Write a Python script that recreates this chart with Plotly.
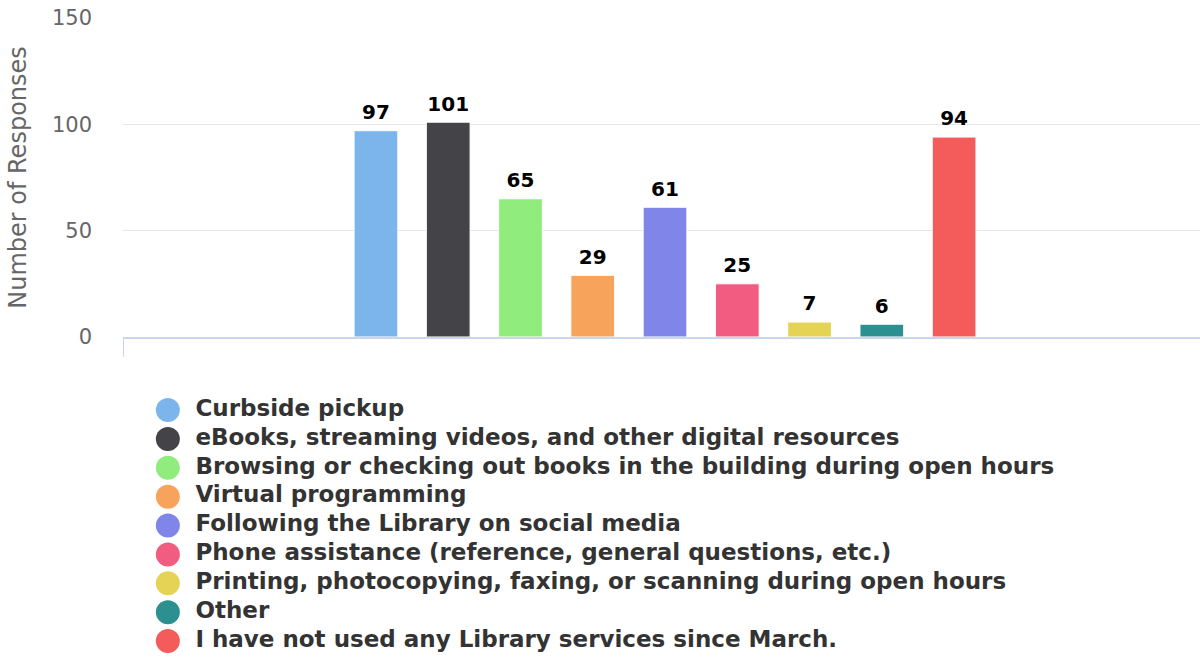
import plotly.graph_objects as go

# Survey responses: which library services people have used
services = [
    "Curbside pickup",
    "eBooks, streaming videos, and other digital resources",
    "Browsing or checking out books in the building during open hours",
    "Virtual programming",
    "Following the Library on social media",
    "Phone assistance (reference, general questions, etc.)",
    "Printing, photocopying, faxing, or scanning during open hours",
    "Other",
    "I have not used any Library services since March.",
]
responses = [97, 101, 65, 29, 61, 25, 7, 6, 94]
colors = ["#7cb5ec", "#434348", "#90ed7d", "#f7a35c", "#8085e9",
          "#f15c80", "#e4d354", "#2b908f", "#f45b5b"]
category = ["Responses"]
y_ticks = [0, 50, 100, 150]

GAP = 0.4

fig = go.Figure()

for name, value, color in zip(services, responses, colors):
    fig.add_trace(go.Bar(
        x=category,
        y=[value],
        name=name,
        marker=dict(color=color, line=dict(color="#ffffff", width=1)),
        showlegend=False,
        hoverinfo="name+y",
    ))

# Value labels above each bar, grouped the same way as the bars
for name, value in zip(services, responses):
    fig.add_trace(go.Scatter(
        x=category,
        y=[value],
        name=name,
        mode="markers+text",
        marker=dict(size=9, color="rgba(0,0,0,0)"),
        text=[value],
        textposition="top center",
        textfont=dict(family="DejaVu Sans", size=20, color="#000000", weight="bold"),
        cliponaxis=False,
        showlegend=False,
        hoverinfo="skip",
    ))

# Legend block under the chart: one round swatch and label per service
legend_rows = list(range(len(services)))
fig.add_trace(go.Scatter(
    x=[0] * len(services),
    y=legend_rows,
    xaxis="x2",
    yaxis="y2",
    mode="markers",
    marker=dict(color=colors, size=24, symbol="circle", line=dict(width=0)),
    cliponaxis=False,
    showlegend=False,
    hoverinfo="skip",
))
fig.add_trace(go.Scatter(
    x=[0] * len(services),
    y=legend_rows,
    xaxis="x2",
    yaxis="y2",
    mode="markers+text",
    marker=dict(color="rgba(0,0,0,0)", size=42),
    text=services,
    textposition="middle right",
    textfont=dict(family="DejaVu Sans", size=23, color="#333333", weight="bold"),
    cliponaxis=False,
    showlegend=False,
    hoverinfo="skip",
))

fig.update_layout(
    width=1200,
    height=658,
    margin=dict(l=123, r=0, t=18, b=0, autoexpand=False),
    paper_bgcolor="#ffffff",
    plot_bgcolor="#ffffff",
    barmode="group",
    bargap=GAP,
    bargroupgap=0.395,
    scattermode="group",
    scattergap=GAP,
    showlegend=False,
    xaxis=dict(
        type="category",
        range=[-0.5, 0.4935],
        showticklabels=False,
        showgrid=False,
        tickson="boundaries",
        ticks="outside",
        ticklen=18,
        tickwidth=1,
        tickcolor="#ccd6eb",
        showline=True,
        linecolor="#ccd6eb",
        linewidth=2,
        zeroline=False,
        fixedrange=True,
    ),
    yaxis=dict(
        domain=[0.5016, 1],
        range=[0, 150],
        tickvals=y_ticks,
        showgrid=True,
        gridcolor="#e6e6e6",
        gridwidth=1,
        zeroline=False,
        ticks="",
        ticklabelstandoff=30,
        tickfont=dict(family="DejaVu Sans", size=21, color="#666666"),
        title=dict(text="Number of Responses",
                   font=dict(family="DejaVu Sans", size=24, color="#666666"),
                   standoff=18),
        fixedrange=True,
    ),
    xaxis2=dict(
        anchor="y2",
        domain=[0, 1],
        range=[-45, 1032],
        visible=False,
        fixedrange=True,
    ),
    yaxis2=dict(
        anchor="x2",
        domain=[0.0039, 0.410],
        range=[8.5, -0.5],
        visible=False,
        fixedrange=True,
    ),
)

fig.write_html("out.html")
